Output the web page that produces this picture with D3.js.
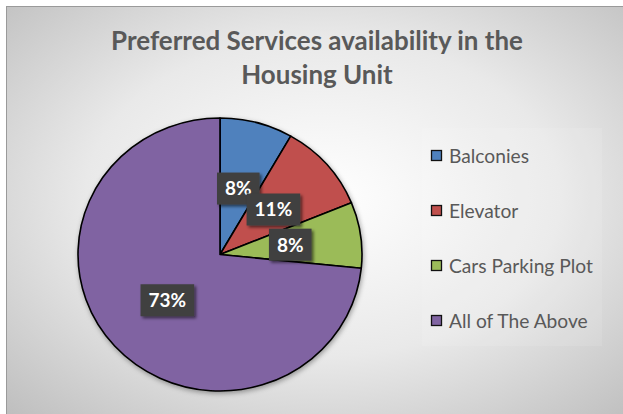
<!DOCTYPE html>
<html>
<head>
<meta charset="utf-8">
<script src="https://cdn.jsdelivr.net/npm/d3@7/dist/d3.min.js"></script>
<style>
  html, body { margin: 0; padding: 0; background: #fff; }
  svg { display: block; font-family: Lato, "Open Sans", sans-serif; }
</style>
</head>
<body>
<div id="chart"></div>
<script>
// Chart data
const categories = ["Balconies", "Elevator", "Cars Parking Plot", "All of The Above"];
const shares = [8.3, 10.5, 7.8, 73.4];
const labels = ["8%", "11%", "8%", "73%"];
const colors = ["#4F81BD", "#C0504D", "#9BBB59", "#8064A2"];
const titleLines = ["Preferred Services availability in the", "Housing Unit"];

const width = 623, height = 414;

const svg = d3.select("#chart").append("svg")
	.attr("width", width)
	.attr("height", height);

const defs = svg.append("defs");

// background gradient like the office chart area
const grad = defs.append("radialGradient")
	.attr("id", "bg")
	.attr("cx", "50%").attr("cy", "45%").attr("r", "75%");
grad.append("stop").attr("offset", "0%").attr("stop-color", "#ffffff");
grad.append("stop").attr("offset", "50%").attr("stop-color", "#e9e9e9");
grad.append("stop").attr("offset", "100%").attr("stop-color", "#bababa");

const shadow = defs.append("filter").attr("id", "shadow")
	.attr("x", "-30%").attr("y", "-30%").attr("width", "160%").attr("height", "160%");
shadow.append("feDropShadow")
	.attr("dx", 2).attr("dy", 2).attr("stdDeviation", 1.8)
	.attr("flood-color", "#000").attr("flood-opacity", 0.55);

const pieShadow = defs.append("filter").attr("id", "pieShadow")
	.attr("x", "-10%").attr("y", "-10%").attr("width", "120%").attr("height", "120%");
pieShadow.append("feDropShadow")
	.attr("dx", 1).attr("dy", 2).attr("stdDeviation", 2.5)
	.attr("flood-color", "#000").attr("flood-opacity", 0.35);

svg.append("rect")
	.attr("x", 6.5).attr("y", 6.5)
	.attr("width", width + 10).attr("height", height + 10)
	.attr("fill", "url(#bg)")
	.attr("stroke", "#9a9a9a");

// Title
const title = svg.append("g").attr("class", "title");
title.selectAll("text")
	.data(titleLines)
	.enter().append("text")
	.attr("x", 317)
	.attr("y", (d, i) => 50 + i * 34)
	.attr("text-anchor", "middle")
	.attr("fill", "#595959")
	.attr("font-weight", "bold")
	.attr("font-size", 22)
	.text(d => d);

// fit title width to the original
const first = title.select("text").node();
const fs = 22 * 412 / first.getComputedTextLength();
title.selectAll("text").attr("font-size", fs);

// Pie
const radius = 142;
const yScale = 136.5 / 142;
const cx = 220, cy = 254.5;

const pie = d3.pie().sort(null).value(d => d);
const arcs = pie(shares);
const arc = d3.arc().innerRadius(0).outerRadius(radius);

const pieG = svg.append("g")
	.attr("transform", `translate(${cx},${cy}) scale(1,${yScale})`);

pieG.append("g").attr("filter", "url(#pieShadow)")
	.selectAll("path")
	.data(arcs)
	.enter().append("path")
	.attr("d", arc)
	.attr("fill", (d, i) => colors[i])
	.attr("stroke", "#000")
	.attr("stroke-width", 1.6)
	.attr("vector-effect", "non-scaling-stroke")
	.attr("stroke-linejoin", "round");

// Data labels
const labelLayer = svg.append("g");
arcs.forEach((d, i) => {
	const c = arc.centroid(d);
	const g = labelLayer.append("g")
		.attr("transform", `translate(${cx + c[0]},${cy + c[1] * yScale})`);
	const t = g.append("text")
		.attr("text-anchor", "middle")
		.attr("dy", "0.36em")
		.attr("fill", "#fff")
		.attr("font-weight", "bold")
		.attr("font-size", 19)
		.text(labels[i]);
	const w = t.node().getComputedTextLength();
	g.insert("rect", "text")
		.attr("x", -w / 2 - 8).attr("y", -16)
		.attr("width", w + 16).attr("height", 32)
		.attr("fill", "#404040")
		.attr("filter", "url(#shadow)");
});

// Legend
const legend = svg.append("g");
legend.append("rect")
	.attr("x", 422).attr("y", 128)
	.attr("width", 180).attr("height", 218)
	.attr("fill", "#ffffff").attr("opacity", 0.1);

const legendY = d3.scalePoint().domain(categories).range([156, 321]);

const item = legend.selectAll("g.item")
	.data(categories)
	.enter().append("g")
	.attr("class", "item")
	.attr("transform", d => `translate(431,${legendY(d)})`);

item.append("rect")
	.attr("x", 0.5).attr("y", -5.5)
	.attr("width", 10).attr("height", 10)
	.attr("fill", (d, i) => colors[i])
	.attr("stroke", "#111")
	.attr("stroke-width", 1.3);

const legendText = item.append("text")
	.attr("x", 18)
	.attr("dy", "0.36em")
	.attr("fill", "#595959")
	.attr("font-size", 17)
	.text(d => d);

// size the legend text so the longest entry spans like the original
const longest = d3.max(legendText.nodes(), n => n.getComputedTextLength());
legendText.attr("font-size", 17 * 144 / longest);
</script>
</body>
</html>
